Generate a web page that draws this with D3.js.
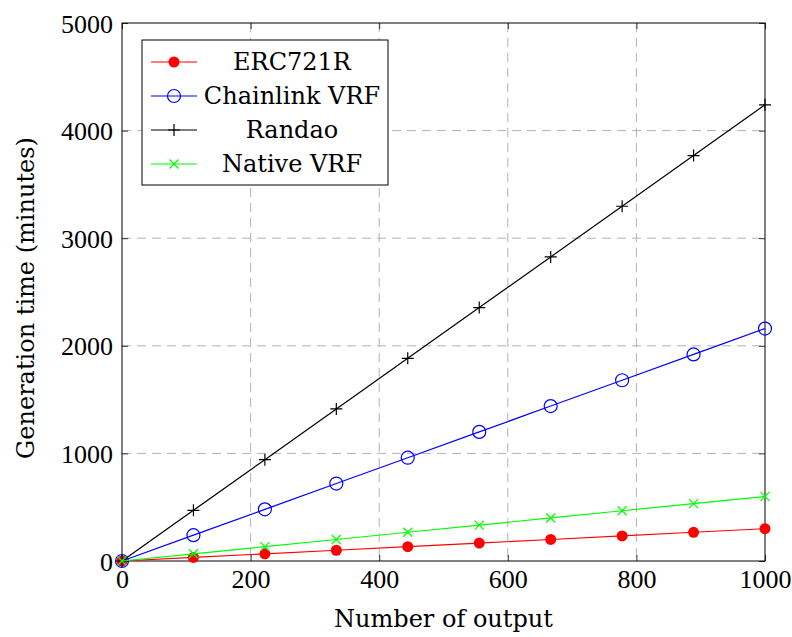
<!DOCTYPE html>
<html>
<head>
<meta charset="utf-8">
<script src="https://cdn.jsdelivr.net/npm/d3@7"></script>
<style>
  body { margin: 0; background: #fff; }
  text { font-family: "DejaVu Serif", "Liberation Serif", serif; }
</style>
</head>
<body>
<svg id="chart" width="792" height="637"></svg>
<script>
// number of outputs (x)
var outputs = [0, 111.1, 222.2, 333.3, 444.4, 555.6, 666.7, 777.8, 888.9, 1000];

// generation time in minutes
var erc721r   = [0, 33, 67, 100, 133, 167, 200, 233, 267, 300];
var chainlink = [0, 240, 480, 720, 960, 1200, 1440, 1680, 1920, 2160];
var randao    = [0, 471, 942, 1413, 1884, 2355, 2826, 3297, 3768, 4240];
var nativeVrf = [0, 67, 133, 200, 267, 333, 400, 467, 533, 600];

var xTicks = [0, 200, 400, 600, 800, 1000];
var yTicks = [0, 1000, 2000, 3000, 4000, 5000];

var series = [
  { name: "ERC721R",       values: erc721r,   color: "#ff0000", mark: "dot" },
  { name: "Chainlink VRF", values: chainlink, color: "#0000ff", mark: "circle" },
  { name: "Randao",        values: randao,    color: "#000000", mark: "plus" },
  { name: "Native VRF",    values: nativeVrf, color: "#00ff00", mark: "cross" }
];

var margin = { top: 23, right: 27, bottom: 76, left: 122 };
var svg = d3.select("#chart");
var width = 792 - margin.left - margin.right;
var height = 637 - margin.top - margin.bottom;

var g = svg.append("g").attr("transform", "translate(" + margin.left + "," + margin.top + ")");

var x = d3.scaleLinear().domain([0, 1000]).range([0, width]);
var y = d3.scaleLinear().domain([0, 5000]).range([height, 0]);

// grid
g.append("g").selectAll("line").data(xTicks.slice(1, -1)).join("line")
  .attr("x1", d => x(d)).attr("x2", d => x(d))
  .attr("y1", 0).attr("y2", height)
  .attr("stroke", "#b3b3b3").attr("stroke-width", 1).attr("stroke-dasharray", "9,6");
g.append("g").selectAll("line").data(yTicks.slice(1, -1)).join("line")
  .attr("y1", d => y(d)).attr("y2", d => y(d))
  .attr("x1", 0).attr("x2", width)
  .attr("stroke", "#b3b3b3").attr("stroke-width", 1).attr("stroke-dasharray", "9,6");

// axes, ticks pointing inward on all four sides
var fontSize = 24;
var fmt = d3.format("d");
var xBottom = g.append("g").attr("transform", "translate(0," + height + ")")
  .call(d3.axisBottom(x).tickValues(xTicks).tickSize(-6).tickPadding(9).tickFormat(fmt));
var xTop = g.append("g")
  .call(d3.axisTop(x).tickValues(xTicks).tickSize(-6).tickFormat(""));
var yLeft = g.append("g")
  .call(d3.axisLeft(y).tickValues(yTicks).tickSize(-6).tickPadding(9).tickFormat(fmt));
var yRight = g.append("g").attr("transform", "translate(" + width + ",0)")
  .call(d3.axisRight(y).tickValues(yTicks).tickSize(-6).tickFormat(""));

[xBottom, xTop, yLeft, yRight].forEach(function(a) {
  a.attr("font-family", null).attr("font-size", null);
  a.select(".domain").remove();
  a.selectAll("line").attr("stroke", "#333").attr("stroke-width", 1);
  a.selectAll("text").attr("font-size", 26).attr("fill", "#000")
    .style("font-family", "'Liberation Serif', serif");
});
yLeft.selectAll("text").attr("dy", "0.35em");
xBottom.selectAll("text").attr("dy", "0.68em");

g.append("rect").attr("width", width).attr("height", height)
  .attr("fill", "none").attr("stroke", "#000").attr("stroke-width", 1);

// markers
function drawMark(sel, s) {
  if (s.mark === "dot") {
    sel.append("circle").attr("r", 5.5).attr("fill", s.color);
  } else if (s.mark === "circle") {
    sel.append("circle").attr("r", 6.5).attr("fill", "none")
      .attr("stroke", s.color).attr("stroke-width", 1.2);
  } else if (s.mark === "plus") {
    sel.append("path").attr("d", "M-6,0H6M0,-6V6")
      .attr("stroke", s.color).attr("stroke-width", 1.2);
  } else {
    sel.append("path").attr("d", "M-4.5,-4.5L4.5,4.5M-4.5,4.5L4.5,-4.5")
      .attr("stroke", s.color).attr("stroke-width", 1.2);
  }
}

var line = d3.line().x(d => x(d[0])).y(d => y(d[1]));

series.forEach(function(s) {
  var pts = outputs.map((o, i) => [o, s.values[i]]);
  g.append("path").datum(pts)
    .attr("fill", "none").attr("stroke", s.color).attr("stroke-width", 1.2)
    .attr("d", line);
  g.append("g").selectAll("g").data(pts).join("g")
    .attr("transform", d => "translate(" + x(d[0]) + "," + y(d[1]) + ")")
    .each(function() { drawMark(d3.select(this), s); });
});

// legend
var legend = g.append("g").attr("transform", "translate(20,17)");
legend.append("rect").attr("width", 246).attr("height", 145)
  .attr("fill", "#fff").attr("stroke", "#000").attr("stroke-width", 1);
series.forEach(function(s, i) {
  var row = legend.append("g").attr("transform", "translate(0," + (22 + i * 34) + ")");
  row.append("line").attr("x1", 9).attr("x2", 55)
    .attr("stroke", s.color).attr("stroke-width", 1.2);
  var m = row.append("g").attr("transform", "translate(32,0)");
  drawMark(m, s);
  row.append("text").attr("x", 150).attr("dy", "0.35em")
    .attr("text-anchor", "middle").attr("font-size", fontSize).text(s.name);
});

// axis titles
svg.append("text").attr("x", margin.left + width / 2).attr("y", 627)
  .attr("text-anchor", "middle").attr("font-size", fontSize).text("Number of output");
svg.append("text")
  .attr("transform", "translate(34,298) rotate(-90)")
  .attr("text-anchor", "middle").attr("font-size", fontSize).text("Generation time (minutes)");
</script>
</body>
</html>
